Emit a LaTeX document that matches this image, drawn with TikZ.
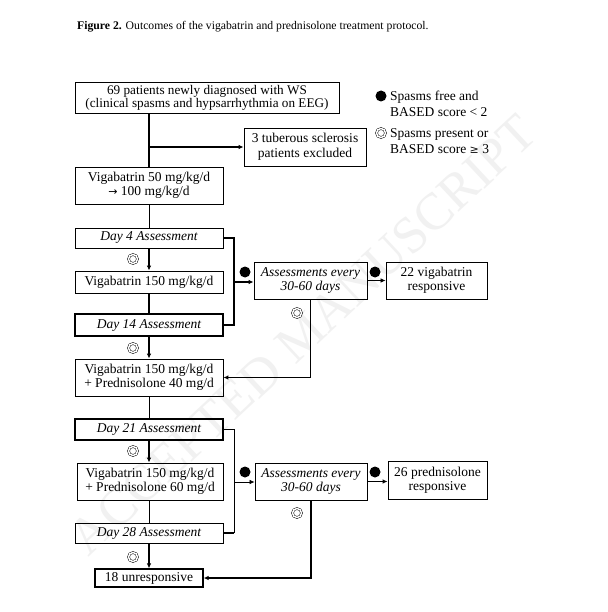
\documentclass[tikz,border=0pt]{standalone}
\usepackage{fontspec}
\setmainfont{Liberation Serif}
\usetikzlibrary{arrows.meta}
\begin{document}
\begin{tikzpicture}[x=1pt,y=-1pt,
  box/.style={draw,line width=0.8pt,align=center,inner sep=0pt,font=\fontsize{13.5}{14.5}\selectfont},
  ibox/.style={box,font=\fontsize{13.5}{14.5}\selectfont\itshape},
  thin/.style={line width=0.7pt},
  thk/.style={line width=1.5pt},
  arr/.style={-{Latex[length=5pt,width=4.5pt]}},
  bul/.style={circle,fill,inner sep=0pt,minimum size=11pt},
  dcirc/.style={circle,draw,double,double distance=1.5pt,line width=0.5pt,inner sep=0pt,minimum size=9pt},
  leg/.style={align=left,anchor=west,inner sep=0pt,font=\fontsize{13.5}{15.5}\selectfont}]
\useasboundingbox (0,0) rectangle (607,612);
\fill[white] (0,0) rectangle (607,612);
% watermark
\node[text=gray!11,rotate=43,font=\fontsize{52}{52}\selectfont] (wm) at (303,335) {ACCEPTED MANUSCRIPT};
% caption
\node[anchor=west,inner sep=0pt,font=\fontsize{11.7}{13}\selectfont] (cap) at (77,27) {\textbf{Figure 2.} Outcomes of the vigabatrin and prednisolone treatment protocol.};
% boxes
\node[box,font=\fontsize{13.2}{13}\selectfont,minimum width=264pt,minimum height=31pt] (b1) at (207,98) {69 patients newly diagnosed with WS\\(clinical spasms and hypsarrhythmia on EEG)};
\node[box,minimum width=122pt,minimum height=38pt] (b2) at (305,147) {3 tuberous sclerosis\\patients excluded};
\node[box,minimum width=148pt,minimum height=37pt] (b3) at (149,185.5) {Vigabatrin 50 mg/kg/d\\{\fontspec{DejaVu Sans}\fontsize{11}{12}\selectfont →} 100 mg/kg/d};
\node[ibox,minimum width=148pt,minimum height=20pt] (d4) at (149,238) {Day 4 Assessment};
\node[box,minimum width=148pt,minimum height=22pt] (v150) at (149,282) {Vigabatrin 150 mg/kg/d};
\node[ibox,line width=1.6pt,minimum width=148pt,minimum height=22pt] (d14) at (149,325) {Day 14 Assessment};
\node[box,minimum width=148pt,minimum height=37pt] (vp40) at (149,377.5) {Vigabatrin 150 mg/kg/d\\+ Prednisolone 40 mg/d};
\node[ibox,line width=1.6pt,minimum width=148pt,minimum height=21pt] (d21) at (149,429.5) {Day 21 Assessment};
\node[box,minimum width=146pt,minimum height=37pt] (vp60) at (150,481.5) {Vigabatrin 150 mg/kg/d\\+ Prednisolone 60 mg/d};
\node[ibox,minimum width=148pt,minimum height=20pt] (d28) at (149,533) {Day 28 Assessment};
\node[box,line width=1.2pt,minimum width=108pt,minimum height=18pt] (un) at (149,578) {18 unresponsive};
\node[ibox,minimum width=113pt,minimum height=37pt] (a1) at (310.5,280.5) {Assessments every\\30-60 days};
\node[box,minimum width=101pt,minimum height=37pt] (r1) at (436.5,280.5) {22 vigabatrin\\responsive};
\node[ibox,minimum width=112pt,minimum height=37pt] (a2) at (311,481.5) {Assessments every\\30-60 days};
\node[box,minimum width=99pt,minimum height=38pt] (r2) at (437.5,480) {26 prednisolone\\responsive};
% legend
\node[bul] (lb1) at (381,96) {};
\node[leg] (lt1) at (390,104) {Spasms free and\\BASED score < 2};
\node[dcirc] (lc1) at (381,133) {};
\node[leg] (lt2) at (390,141) {Spasms present or\\BASED score {\fontspec{DejaVu Serif}\fontsize{11}{12}\selectfont ≥} 3};
% coordinates
\coordinate (j1) at (b3.north |- b2.west);
\coordinate (top1) at (b3.north |- b1.south);
\coordinate (k1a) at (234,238);
\coordinate (k1b) at (234,325);
\coordinate (k1m) at (234,282);
\coordinate (m1) at (a1.south |- vp40.east);
\coordinate (k2a) at (234,429.5);
\coordinate (k2b) at (234,533);
\coordinate (k2m) at (234,482);
\coordinate (m2) at (a2.south |- un.east);
% main spine
\draw[thk] (top1) -- (b3.north);
\draw[thk,arr] (j1) -- (b2.west);
\draw[thin] (b3.south) -- (d4.north);
\draw[thk,arr] (d4.south) -- (v150.north);
\draw[thk] (v150.south) -- (d14.north);
\draw[thk,arr] (d14.south) -- (vp40.north);
\draw[thin] (vp40.south) -- (d21.north);
\draw[thk,arr] (d21.south) -- (vp60.north -| d21.south);
\draw[thin] (vp60.south -| d28.north) -- (d28.north);
\draw[thk,arr] (d28.south) -- (un.north);
% bracket 1
\draw[thk] (d4.east) -- (k1a) -- (k1b) -- (d14.east);
\draw[thk,arr] (k1m) -- (a1.west |- k1m);
\draw[thin,arr] (a1.east) -- (r1.west);
\draw[thk,arr] (a1.south) -- (m1) -- (vp40.east);
% bracket 2
\draw[thin] (d21.east) -- (k2a) -- (k2b);
\draw[thk] (k2b) -- (d28.east);
\draw[thin,arr] (k2m) -- (a2.west |- k2m);
\draw[thk,arr] (a2.east) -- (r2.west |- a2.east);
\draw[thk,arr] (a2.south) -- (m2) -- (un.east);
% markers
\node[dcirc] (s1) at (133,259) {};
\node[dcirc] (s2) at (133,348) {};
\node[dcirc] (s3) at (133,451) {};
\node[dcirc] (s4) at (133,557) {};
\node[dcirc] (s5) at (297,313) {};
\node[dcirc] (s6) at (297,513) {};
\node[bul] (f1) at (245,272) {};
\node[bul] (f2) at (375,272) {};
\node[bul] (f3) at (245,472) {};
\node[bul] (f4) at (375,472) {};
\end{tikzpicture}
\end{document}
